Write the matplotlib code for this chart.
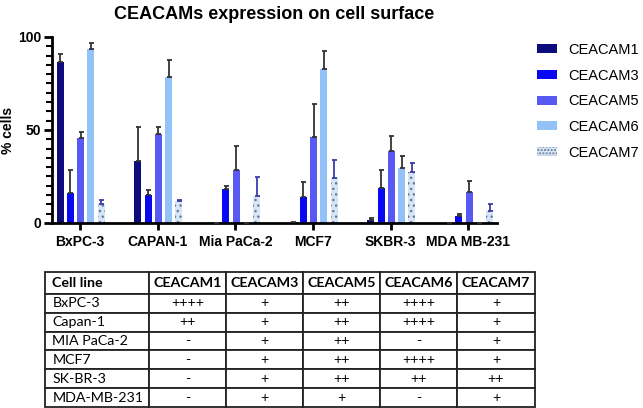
import matplotlib.pyplot as plt
import matplotlib.patches as mpatches
import numpy as np

nan = np.nan

cell_lines = ['BxPC-3', 'CAPAN-1', 'Mia PaCa-2', 'MCF7', 'SKBR-3', 'MDA MB-231']
series = ['CEACAM1', 'CEACAM3', 'CEACAM5', 'CEACAM6', 'CEACAM7']

ceacam1 = [86.4, 33.3, 0, 0.6, 1.4, 0]
ceacam1_err = [4.5, 18.3, nan, nan, 1.1, nan]
ceacam3 = [16.0, 15.0, 18.1, 14.0, 19.0, 3.9]
ceacam3_err = [12.5, 2.9, 1.6, 8.0, 9.5, 1.1]
ceacam5 = [45.9, 48.0, 28.7, 46.4, 38.7, 16.7]
ceacam5_err = [2.9, 3.4, 12.5, 17.4, 7.9, 6.0]
ceacam6 = [93.4, 78.3, 0, 82.8, 29.6, 0]
ceacam6_err = [3.5, 9.3, nan, 9.8, 6.4, nan]
ceacam7 = [10.2, 11.8, 14.5, 24.0, 27.6, 6.5]
ceacam7_err = [2.2, 0.7, 10.1, 9.9, 4.8, 3.7]

table_header = ['Cell line', 'CEACAM1', 'CEACAM3', 'CEACAM5', 'CEACAM6', 'CEACAM7']
table_rows = [
    ['BxPC-3', '++++', '+', '++', '++++', '+'],
    ['Capan-1', '++', '+', '++', '++++', '+'],
    ['MIA PaCa-2', '-', '+', '++', '-', '+'],
    ['MCF7', '-', '+', '++', '++++', '+'],
    ['SK-BR-3', '-', '+', '++', '++', '++'],
    ['MDA-MB-231', '-', '+', '+', '-', '+'],
]

values = [ceacam1, ceacam3, ceacam5, ceacam6, ceacam7]
errors = [ceacam1_err, ceacam3_err, ceacam5_err, ceacam6_err, ceacam7_err]
colors = ['#0c0c7a', '#0808f2', '#5858f2', '#92c2f8', '#d6e6f8']
err_colors = ['#333333', '#333333', '#333333', '#333333', '#3c3ca8']

plt.rcParams['font.family'] = ['Liberation Sans', 'DejaVu Sans']
plt.rcParams['hatch.color'] = '#6a7a90'
plt.rcParams['hatch.linewidth'] = 1.0

fig = plt.figure(figsize=(6.43, 4.08), dpi=100)
ax = fig.add_axes([52 / 643, 1 - 223 / 408, (497 - 52) / 643, (223 - 37) / 408])

x = np.arange(len(cell_lines))
step = 0.132
width = 0.09
for i, (name, vals, errs) in enumerate(zip(series, values, errors)):
    xs = x + (i - 2) * step + 0.01
    hatch = '...' if name == 'CEACAM7' else None
    ax.bar(xs, vals, width, color=colors[i], label=name, hatch=hatch,
           linewidth=0, zorder=2)
    errs = np.array(errs)
    ax.errorbar(xs, vals, yerr=[np.zeros_like(errs), errs], fmt='none',
                ecolor=err_colors[i], elinewidth=1.3, capsize=1.8,
                capthick=1.3, zorder=3, clip_on=False)

ax.set_xlim(-0.36, 5.37)
ax.set_ylim(0, 100)
ax.set_xticks(x)
ax.set_xticklabels(cell_lines, fontsize=10, fontweight='bold')
ax.set_yticks([0, 50, 100])
ax.set_yticklabels(['0', '50', '100'], fontsize=10, fontweight='bold')
ax.set_yticks(np.arange(0, 101, 5), minor=True)
ax.tick_params(axis='y', which='major', length=6, width=2, pad=2)
ax.tick_params(axis='y', which='minor', length=4, width=1.5)
ax.tick_params(axis='x', which='major', length=5, width=2, pad=4)
for s in ['top', 'right']:
    ax.spines[s].set_visible(False)
for s in ['left', 'bottom']:
    ax.spines[s].set_linewidth(2)
ax.set_ylabel('% cells', fontsize=10, fontweight='bold')
ax.yaxis.set_label_coords(-0.083, 0.5)
ax.set_title('CEACAMs expression on cell surface', fontsize=13,
             fontweight='bold', pad=13)

handles = [mpatches.Patch(facecolor=colors[i], hatch='.....' if i == 4 else None,
                          linewidth=0, label=series[i]) for i in range(5)]
fig.legend(handles=handles, loc='upper left', bbox_to_anchor=(537 / 643, 1 - 43 / 408),
           frameon=False, fontsize=10.5, handlelength=1.4, handleheight=0.55,
           labelspacing=0.8, borderpad=0, borderaxespad=0, handletextpad=0.75)

# table
tax = fig.add_axes([45 / 643, 1 - 407 / 408, (535 - 45) / 643, (407 - 272) / 408])
tax.axis('off')
tbl = tax.table(cellText=table_rows, colLabels=table_header,
                colWidths=[104, 77, 77, 77, 77, 78], bbox=[0, 0, 1, 1],
                cellLoc='center')
tbl.auto_set_font_size(False)
for (r, c), cell in tbl.get_celld().items():
    cell.set_linewidth(1.3)
    cell.set_edgecolor('#222222')
    cell.set_height(22 if r == 0 else 19)
    txt = cell.get_text()
    txt.set_fontfamily(['Lato', 'DejaVu Sans'])
    txt.set_fontsize(10.3)
    if r == 0:
        txt.set_fontweight('bold')
    if c == 0:
        txt.set_horizontalalignment('left')
        cell.PAD = 0.07

fig.savefig('out.png', dpi=100)
